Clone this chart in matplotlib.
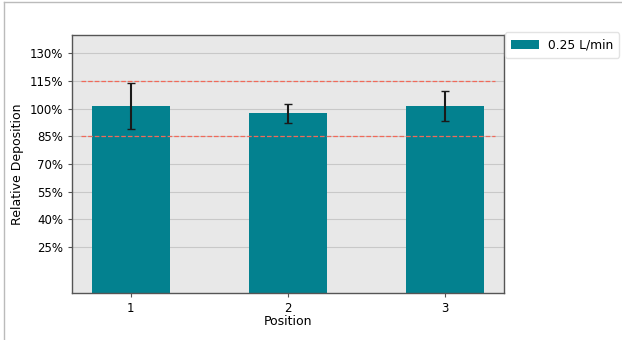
import matplotlib
matplotlib.use("Agg")
import matplotlib.pyplot as plt
from matplotlib.lines import Line2D
from matplotlib.ticker import FixedLocator, PercentFormatter

# deposition per position, in percent
positions = [1, 2, 3]
deposition = [101.5, 97.5, 101.5]
deposition_err = [12.3, 5.0, 8.0]
series_label = "0.25 L/min"
yticks = [25, 40, 55, 70, 85, 100, 115, 130]
limits = [85, 115]

fig = plt.figure(figsize=(6.22, 3.40), dpi=100)
ax = fig.add_axes([72 / 622, 1 - 293 / 340, 432 / 622, 258 / 340])
ax.set_facecolor("#e8e8e8")

ax.bar(positions, deposition, width=0.5, color="#03818f", label=series_label,
       yerr=deposition_err, capsize=3,
       error_kw=dict(ecolor="#1a1a1a", elinewidth=1.5, capthick=1.0), zorder=2)

for lim in limits:
    ax.axhline(lim, xmin=0.02, xmax=0.98, color="#f06a5a", linestyle="--",
               linewidth=0.9, zorder=3)

ax.set_xlim(0.625, 3.375)
ax.set_ylim(0, 140)
ax.set_xticks(positions)
ax.yaxis.set_major_locator(FixedLocator(yticks))
ax.yaxis.set_major_formatter(PercentFormatter(decimals=0))
ax.yaxis.grid(True, color="#c8c8c8", linewidth=0.8, zorder=0)
ax.set_axisbelow(True)
ax.tick_params(labelsize=8.5, length=3, color="#555555")
for spine in ax.spines.values():
    spine.set_edgecolor("#555555")
    spine.set_linewidth(1.0)

ax.set_xlabel("Position", fontsize=9, labelpad=0)
ax.set_ylabel("Relative Deposition", fontsize=9, labelpad=4)

leg = ax.legend(loc="upper left", bbox_to_anchor=(1.002, 1.01), fontsize=8.8,
                frameon=True, fancybox=True, edgecolor="#dddddd",
                handlelength=2.3, handletextpad=0.7, borderaxespad=0.0,
                borderpad=0.5)

# thin frame along the top and left edge of the canvas
fig.add_artist(Line2D([4 / 622, 4 / 622], [0, 1 - 2 / 340], color="#bbbbbb",
                      linewidth=1.0, transform=fig.transFigure))
fig.add_artist(Line2D([4 / 622, 1], [1 - 2 / 340, 1 - 2 / 340], color="#bbbbbb",
                      linewidth=1.0, transform=fig.transFigure))

fig.savefig("out.png", dpi=100, facecolor="white")
